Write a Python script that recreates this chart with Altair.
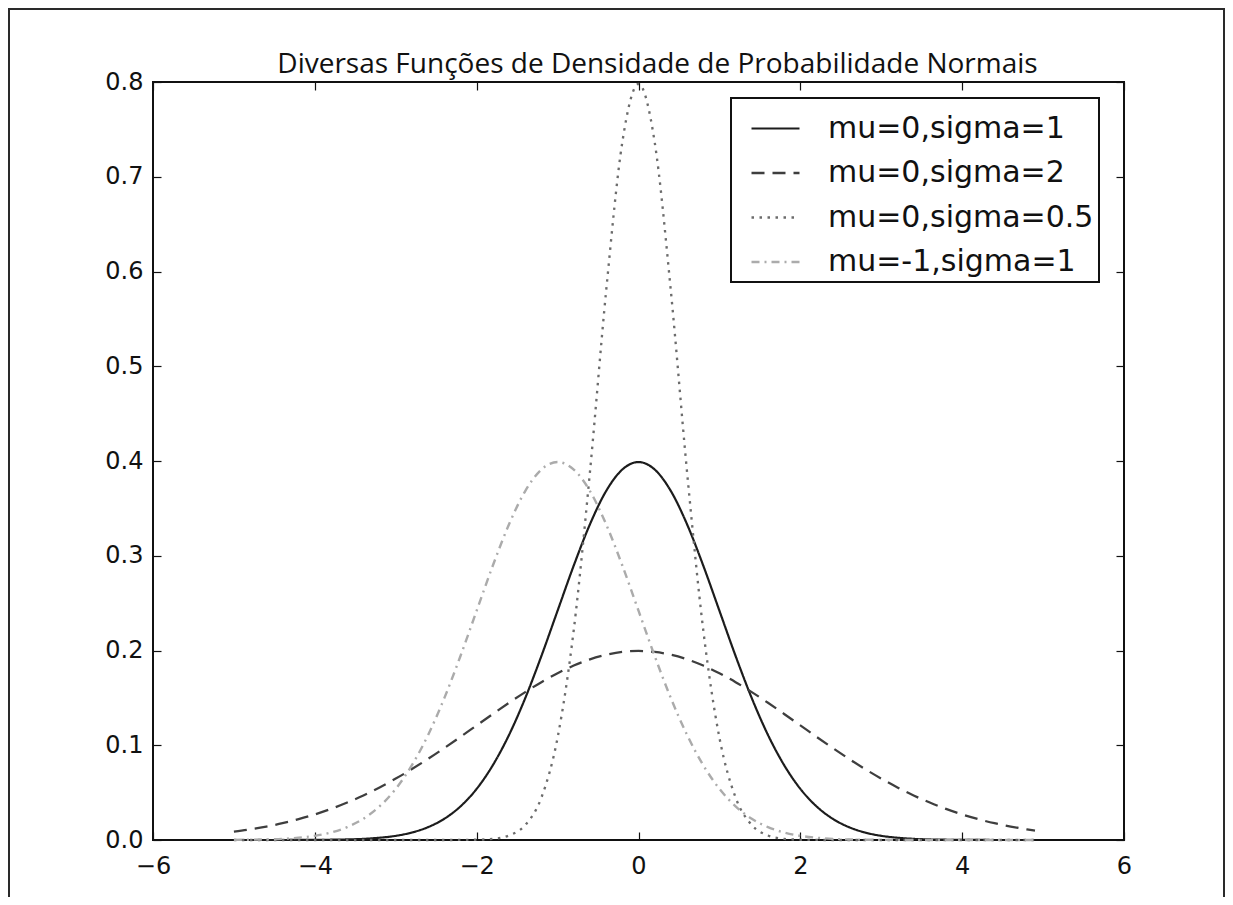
import altair as alt
import pandas as pd

# x positions (read along the horizontal axis)
x_values = [-5.0, -4.8, -4.6, -4.4, -4.2, -4.0, -3.8, -3.6, -3.4, -3.2,
            -3.0, -2.8, -2.6, -2.4, -2.2, -2.0, -1.8, -1.6, -1.4, -1.2,
            -1.0, -0.8, -0.6, -0.4, -0.2, 0.0, 0.2, 0.4, 0.6, 0.8,
            1.0, 1.2, 1.4, 1.6, 1.8, 2.0, 2.2, 2.4, 2.6, 2.8,
            3.0, 3.2, 3.4, 3.6, 3.8, 4.0, 4.2, 4.4, 4.6, 4.8, 4.9]

series_labels = ["mu=0,sigma=1", "mu=0,sigma=2", "mu=0,sigma=0.5", "mu=-1,sigma=1"]

mu0_sigma1 = [0.0000, 0.0000, 0.0000, 0.0000, 0.0001, 0.0001, 0.0003, 0.0006, 0.0012, 0.0024,
              0.0044, 0.0079, 0.0136, 0.0224, 0.0355, 0.0540, 0.0790, 0.1109, 0.1497, 0.1942,
              0.2420, 0.2897, 0.3332, 0.3683, 0.3910, 0.3989, 0.3910, 0.3683, 0.3332, 0.2897,
              0.2420, 0.1942, 0.1497, 0.1109, 0.0790, 0.0540, 0.0355, 0.0224, 0.0136, 0.0079,
              0.0044, 0.0024, 0.0012, 0.0006, 0.0003, 0.0001, 0.0001, 0.0000, 0.0000, 0.0000, 0.0000]

mu0_sigma2 = [0.0088, 0.0112, 0.0142, 0.0177, 0.0220, 0.0270, 0.0328, 0.0395, 0.0470, 0.0555,
              0.0648, 0.0749, 0.0857, 0.0971, 0.1089, 0.1210, 0.1330, 0.1448, 0.1561, 0.1666,
              0.1760, 0.1841, 0.1907, 0.1955, 0.1985, 0.1995, 0.1985, 0.1955, 0.1907, 0.1841,
              0.1760, 0.1666, 0.1561, 0.1448, 0.1330, 0.1210, 0.1089, 0.0971, 0.0857, 0.0749,
              0.0648, 0.0555, 0.0470, 0.0395, 0.0328, 0.0270, 0.0220, 0.0177, 0.0142, 0.0112, 0.0099]

mu0_sigma05 = [0.0000, 0.0000, 0.0000, 0.0000, 0.0000, 0.0000, 0.0000, 0.0000, 0.0000, 0.0000,
               0.0000, 0.0000, 0.0000, 0.0000, 0.0001, 0.0003, 0.0012, 0.0048, 0.0158, 0.0448,
               0.1080, 0.2218, 0.3884, 0.5794, 0.7365, 0.7979, 0.7365, 0.5794, 0.3884, 0.2218,
               0.1080, 0.0448, 0.0158, 0.0048, 0.0012, 0.0003, 0.0001, 0.0000, 0.0000, 0.0000,
               0.0000, 0.0000, 0.0000, 0.0000, 0.0000, 0.0000, 0.0000, 0.0000, 0.0000, 0.0000, 0.0000]

mum1_sigma1 = [0.0001, 0.0003, 0.0006, 0.0012, 0.0024, 0.0044, 0.0079, 0.0136, 0.0224, 0.0355,
               0.0540, 0.0790, 0.1109, 0.1497, 0.1942, 0.2420, 0.2897, 0.3332, 0.3683, 0.3910,
               0.3989, 0.3910, 0.3683, 0.3332, 0.2897, 0.2420, 0.1942, 0.1497, 0.1109, 0.0790,
               0.0540, 0.0355, 0.0224, 0.0136, 0.0079, 0.0044, 0.0024, 0.0012, 0.0006, 0.0003,
               0.0001, 0.0001, 0.0000, 0.0000, 0.0000, 0.0000, 0.0000, 0.0000, 0.0000, 0.0000, 0.0000]

x_ticks = [-6, -4, -2, 0, 2, 4, 6]
y_ticks = [0.0, 0.1, 0.2, 0.3, 0.4, 0.5, 0.6, 0.7, 0.8]

title_text = "Diversas Funções de Densidade de Probabilidade Normais"

series_values = [mu0_sigma1, mu0_sigma2, mu0_sigma05, mum1_sigma1]
rows = []
for order, (label, vals) in enumerate(zip(series_labels, series_values)):
    for xv, yv in zip(x_values, vals):
        rows.append({"x": xv, "y": yv, "series": label, "order": order})
df = pd.DataFrame(rows)

line_colors = ["#1c1c1c", "#3e3e3e", "#6c6c6c", "#ababab"]
line_dashes = [[1, 0], [13, 8], [2.5, 5.5], [8, 5, 2, 5]]
line_widths = [2.2, 2.4, 2.6, 2.4]

W, H = 971, 758
TICK = 8
FONT = "DejaVu Sans"

xscale = alt.Scale(domain=[-6, 6], nice=False, zero=False)
yscale = alt.Scale(domain=[0, 0.8], nice=False, zero=True)

legend = alt.Legend(
    title=None, orient="none", legendX=578, legendY=16,
    symbolType="stroke", symbolSize=2304, symbolStrokeWidth=2.2,
    labelFontSize=30, labelFont=FONT, labelColor="#111111",
    strokeColor="#111111", fillColor="white", padding=5,
    rowPadding=3.5, labelOffset=27, labelLimit=500, symbolOffset=14,
)

lines = alt.Chart(df).mark_line(interpolate="monotone").encode(
    x=alt.X("x:Q", scale=xscale, axis=alt.Axis(
        orient="bottom", values=x_ticks, format="d", offset=-TICK, tickSize=TICK,
        labelPadding=14, domain=False, grid=False, labelFontSize=24, labelFont=FONT,
        labelColor="#111111", tickColor="#111111", tickWidth=1.2, title=None,
        labelFlush=False, labelOverlap=False)),
    y=alt.Y("y:Q", scale=yscale, axis=alt.Axis(
        orient="left", values=y_ticks, format=".1f", offset=-TICK, tickSize=TICK,
        labelPadding=10, domain=False, grid=False, labelFontSize=24, labelFont=FONT,
        labelColor="#111111", tickColor="#111111", tickWidth=1.2, title=None,
        labelFlush=False, labelOverlap=False)),
    color=alt.Color("series:N", scale=alt.Scale(domain=series_labels, range=line_colors), legend=legend),
    strokeDash=alt.StrokeDash("series:N", scale=alt.Scale(domain=series_labels, range=line_dashes), legend=legend),
    strokeWidth=alt.StrokeWidth("series:N", scale=alt.Scale(domain=series_labels, range=line_widths), legend=None),
    order=alt.Order("order:Q"),
)

ticks_other = alt.Chart(df).mark_point(opacity=0).encode(
    x=alt.X("x:Q", scale=xscale, axis=alt.Axis(
        orient="top", values=x_ticks, labels=False, offset=-TICK, tickSize=TICK,
        domain=False, grid=False, tickColor="#111111", tickWidth=1.2, title=None)),
    y=alt.Y("y:Q", scale=yscale, axis=alt.Axis(
        orient="right", values=y_ticks, labels=False, offset=-TICK, tickSize=TICK,
        domain=False, grid=False, tickColor="#111111", tickWidth=1.2, title=None)),
)

frame = alt.Chart(alt.Data(values=[{}])).mark_rect(
    fill=None, filled=False, stroke="#2a2a2a", strokeWidth=2, clip=False
).encode(
    x=alt.value(-144), x2=alt.value(1071), y=alt.value(-73), y2=alt.value(900)
)

chart = alt.layer(lines, ticks_other, frame).resolve_axis(
    x="independent", y="independent"
).properties(
    width=W, height=H,
    padding={"left": 145, "top": 74, "right": 101, "bottom": 57},
    autosize=alt.AutoSizeParams(type="none"),
    title=alt.TitleParams(text=title_text, font="Open Sans", fontSize=28, fontWeight="normal",
                          color="#111111", anchor="middle", offset=3, dx=19, dy=74),
    background="white",
).configure_view(stroke="#111111", strokeWidth=2)

try:
    chart2 = chart.configure_legend(strokeWidth=2)
    chart2.to_dict()
    chart = chart2
except Exception:
    pass

chart.save("out.html", embed_options={"renderer": "svg", "actions": False})
